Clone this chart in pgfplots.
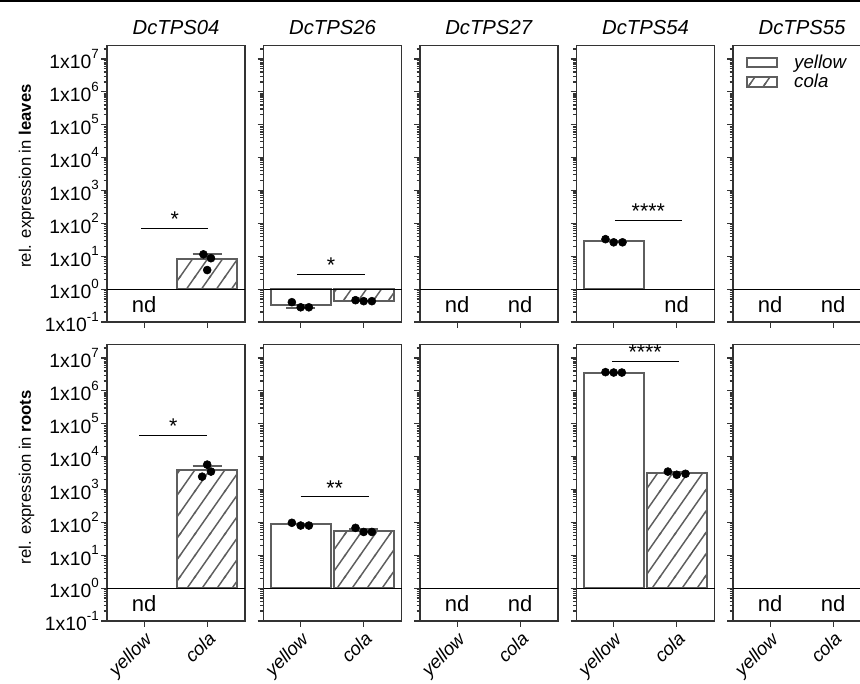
\documentclass[border=0pt]{standalone}
\usepackage{fontspec}
\setmainfont{Liberation Sans}
\usepackage{pgfplots}
\pgfplotsset{compat=1.18}
\usetikzlibrary{patterns}
\definecolor{bargray}{HTML}{5E5E5E}
\definecolor{axgray}{HTML}{333333}
\newcommand{\tfont}{\fontsize{15.2}{17}\selectfont}
\newcommand{\kfont}{\fontsize{14.5}{16}\selectfont}
\newcommand{\xfont}{\fontsize{14}{16}\selectfont}
\newcommand{\nfont}{\fontsize{16.5}{18}\selectfont}
\newcommand{\gfont}{\fontsize{14}{16}\selectfont}
\newcommand{\sfont}{\fontsize{16}{18}\selectfont}
\newcommand{\lfont}{\fontsize{12.5}{14}\selectfont}
\newcommand{\sx}[1]{1x10\raisebox{0.55em}{\fontsize{10}{11}\selectfont #1}}

\pgfdeclarepatternformonly{hatch}{\pgfqpoint{-1pt}{-1pt}}{\pgfqpoint{12.25pt}{17.07pt}}{\pgfqpoint{11.25pt}{16.07pt}}{
  \pgfsetlinewidth{1.1pt}
  \pgfpathmoveto{\pgfqpoint{-0.7pt}{-1pt}}
  \pgfpathlineto{\pgfqpoint{11.95pt}{17.07pt}}
  \pgfusepath{stroke}
}

\pgfplotsset{
  every axis/.append style={
    scale only axis, width=103.5pt, height=207.4pt, anchor=south west,
    ymin=0.1, ymax=2.57e7, xmin=-0.59, xmax=1.6,
    xtick={0,1}, xticklabels={},
    ytick={1e-1,1,1e1,1e2,1e3,1e4,1e5,1e6,1e7}, yticklabels={},
    minor ytick={2e-1,3e-1,4e-1,5e-1,6e-1,7e-1,8e-1,9e-1,
      2,3,4,5,6,7,8,9,20,30,40,50,60,70,80,90,
      200,300,400,500,600,700,800,900,
      2e3,3e3,4e3,5e3,6e3,7e3,8e3,9e3,
      2e4,3e4,4e4,5e4,6e4,7e4,8e4,9e4,
      2e5,3e5,4e5,5e5,6e5,7e5,8e5,9e5,
      2e6,3e6,4e6,5e6,6e6,7e6,8e6,9e6,2e7},
    tick align=outside, tick pos=left,
    major tick length=4.5pt, minor tick length=2.6pt,
    axis line style={line width=1.1pt, axgray},
    clip=false,
    title style={font=\tfont, anchor=base, yshift=2pt},
    yticklabel style={font=\kfont, inner sep=1.5pt},
  },
  every tick/.append style={line width=0.9pt, axgray},
  myylab/.style={yticklabels={\sx{-1},\sx{0},\sx{1},\sx{2},\sx{3},\sx{4},\sx{5},\sx{6},\sx{7}}},
  myxlab/.style={xticklabels={\textit{yellow},\textit{cola}}, xticklabel style={rotate=45, anchor=north east, font=\xfont, inner sep=1.5pt}},
  mywbar/.style={ybar, bar width=0.95, bar shift=0pt, draw=bargray, line width=1.5pt, fill=white},
  myhbar/.style={ybar, bar width=0.95, bar shift=0pt, draw=bargray, line width=1.5pt, pattern=hatch, pattern color=bargray},
  myerr/.style={bargray, line width=1.5pt, mark=none, forget plot},
  mydots/.style={only marks, mark=*, mark size=3pt, black},
  mysig/.style={black, line width=0.8pt, mark=none, forget plot},
}
\newcommand{\oneline}{\draw[black, line width=0.9pt] ({rel axis cs:0,0}|-{axis cs:0,1}) -- ({rel axis cs:1,0}|-{axis cs:0,1});}
\newcommand{\nodata}[1]{\node[font=\nfont] at (axis cs:#1,0.33) {nd};}

\begin{document}
\begin{tikzpicture}
\useasboundingbox (0pt,0pt) rectangle (645pt,513pt);
\fill[black] (0pt,511.2pt) rectangle (645pt,513pt);

% ---------------- top row: leaves ----------------
\begin{axis}[ymode=log, myylab, at={(80.25pt,271.5pt)}, title={\textit{DcTPS04}}]
\addplot[myhbar] coordinates {(1,8.0)};
\addplot[myerr] coordinates {(1,8.0) (1,12)};
\addplot[myerr] coordinates {(0.77,12) (1.23,12)};
\addplot[mydots] coordinates {(0.94,11.4) (1.06,8.7) (1.0,3.8)};
\addplot[mysig] coordinates {(-0.05,70) (1.02,70)};
\node[font=\sfont, anchor=south, inner sep=0pt] at (axis cs:0.485,78) {*};
\oneline
\nodata{0}
\end{axis}

\begin{axis}[ymode=log, at={(197.625pt,271.5pt)}, title={\textit{DcTPS26}}]
\addplot[mywbar] coordinates {(0,0.32)};
\addplot[myerr] coordinates {(0,0.32) (0,0.265)};
\addplot[myerr] coordinates {(-0.23,0.265) (0.23,0.265)};
\addplot[myhbar] coordinates {(1,0.44)};
\addplot[mydots] coordinates {(-0.14,0.40) (0,0.28) (0.13,0.28)};
\addplot[mydots] coordinates {(0.87,0.46) (1.0,0.43) (1.13,0.43)};
\addplot[mysig] coordinates {(-0.06,2.8) (1.02,2.8)};
\node[font=\sfont, anchor=south, inner sep=0pt] at (axis cs:0.48,3.1) {*};
\oneline
\end{axis}

\begin{axis}[ymode=log, at={(315pt,271.5pt)}, title={\textit{DcTPS27}}]
\oneline
\nodata{0}\nodata{1}
\end{axis}

\begin{axis}[ymode=log, at={(432.375pt,271.5pt)}, title={\textit{DcTPS54}}]
\addplot[mywbar] coordinates {(0,28.5)};
\addplot[myerr] coordinates {(-0.2,30) (0.2,30)};
\addplot[mydots] coordinates {(-0.13,33) (0,26.5) (0.14,26.5)};
\addplot[mysig] coordinates {(0.02,123) (1.08,123)};
\node[font=\sfont, anchor=south, inner sep=0pt] at (axis cs:0.55,137) {****};
\oneline
\nodata{1}
\end{axis}

\begin{axis}[ymode=log, at={(549.75pt,271.5pt)}, title={\textit{DcTPS55}},
  legend style={at={(0.09,0.972)}, anchor=north west, draw=none, fill=none, font=\gfont, row sep=1pt, inner sep=0pt, nodes={inner sep=1pt}, /tikz/every odd column/.append style={column sep=11pt}},
  legend cell align=left]
\addlegendimage{legend image code/.code={\draw[line width=1.4pt, bargray, fill=white] (0pt,-3.6pt) rectangle (23pt,3.6pt);}}
\addlegendentry{\textit{yellow}}
\addlegendimage{legend image code/.code={\draw[line width=1.4pt, bargray, pattern=hatch, pattern color=bargray] (0pt,-3.6pt) rectangle (23pt,3.6pt);}}
\addlegendentry{\textit{cola}}
\oneline
\nodata{0}\nodata{1}
\end{axis}

% ---------------- bottom row: roots ----------------
\begin{axis}[ymode=log, myylab, myxlab, at={(80.25pt,47.25pt)}]
\addplot[myhbar] coordinates {(1,3800)};
\addplot[myerr] coordinates {(1,3800) (1,5300)};
\addplot[myerr] coordinates {(0.77,5300) (1.23,5300)};
\addplot[mydots] coordinates {(1.0,5700) (1.06,3500) (0.92,2450)};
\addplot[mysig] coordinates {(-0.08,44000) (1.0,44000)};
\node[font=\sfont, anchor=south, inner sep=0pt] at (axis cs:0.46,50000) {*};
\oneline
\nodata{0}
\end{axis}

\begin{axis}[ymode=log, myxlab, at={(197.625pt,47.25pt)}]
\addplot[mywbar] coordinates {(0,88)};
\addplot[myerr] coordinates {(-0.2,92) (0.2,92)};
\addplot[myhbar] coordinates {(1,56)};
\addplot[myerr] coordinates {(1,56) (1,63)};
\addplot[myerr] coordinates {(0.77,63) (1.23,63)};
\addplot[mydots] coordinates {(-0.14,97) (0,80) (0.13,80)};
\addplot[mydots] coordinates {(0.87,68) (1.0,51) (1.13,51)};
\addplot[mysig] coordinates {(0,600) (1.08,600)};
\node[font=\sfont, anchor=south, inner sep=0pt] at (axis cs:0.54,660) {**};
\oneline
\end{axis}

\begin{axis}[ymode=log, myxlab, at={(315pt,47.25pt)}]
\oneline
\nodata{0}\nodata{1}
\end{axis}

\begin{axis}[ymode=log, myxlab, at={(432.375pt,47.25pt)}]
\addplot[mywbar] coordinates {(0,3.6e6)};
\addplot[myhbar] coordinates {(1,3200)};
\addplot[myerr] coordinates {(0.8,3400) (1.2,3400)};
\addplot[mydots] coordinates {(-0.13,3.7e6) (0,3.6e6) (0.13,3.6e6)};
\addplot[mydots] coordinates {(0.86,3500) (1.0,2800) (1.14,3000)};
\addplot[mysig] coordinates {(-0.03,7.9e6) (1.03,7.9e6)};
\node[font=\sfont, anchor=south, inner sep=0pt] at (axis cs:0.5,8.8e6) {****};
\oneline
\end{axis}

\begin{axis}[ymode=log, myxlab, at={(549.75pt,47.25pt)}]
\oneline
\nodata{0}\nodata{1}
\end{axis}

% y labels
\node[rotate=90, font=\lfont] at (20pt,381pt) {rel. expression in \textbf{leaves}};
\node[rotate=90, font=\lfont] at (20pt,155pt) {rel. expression in \textbf{roots}};
\end{tikzpicture}
\end{document}
